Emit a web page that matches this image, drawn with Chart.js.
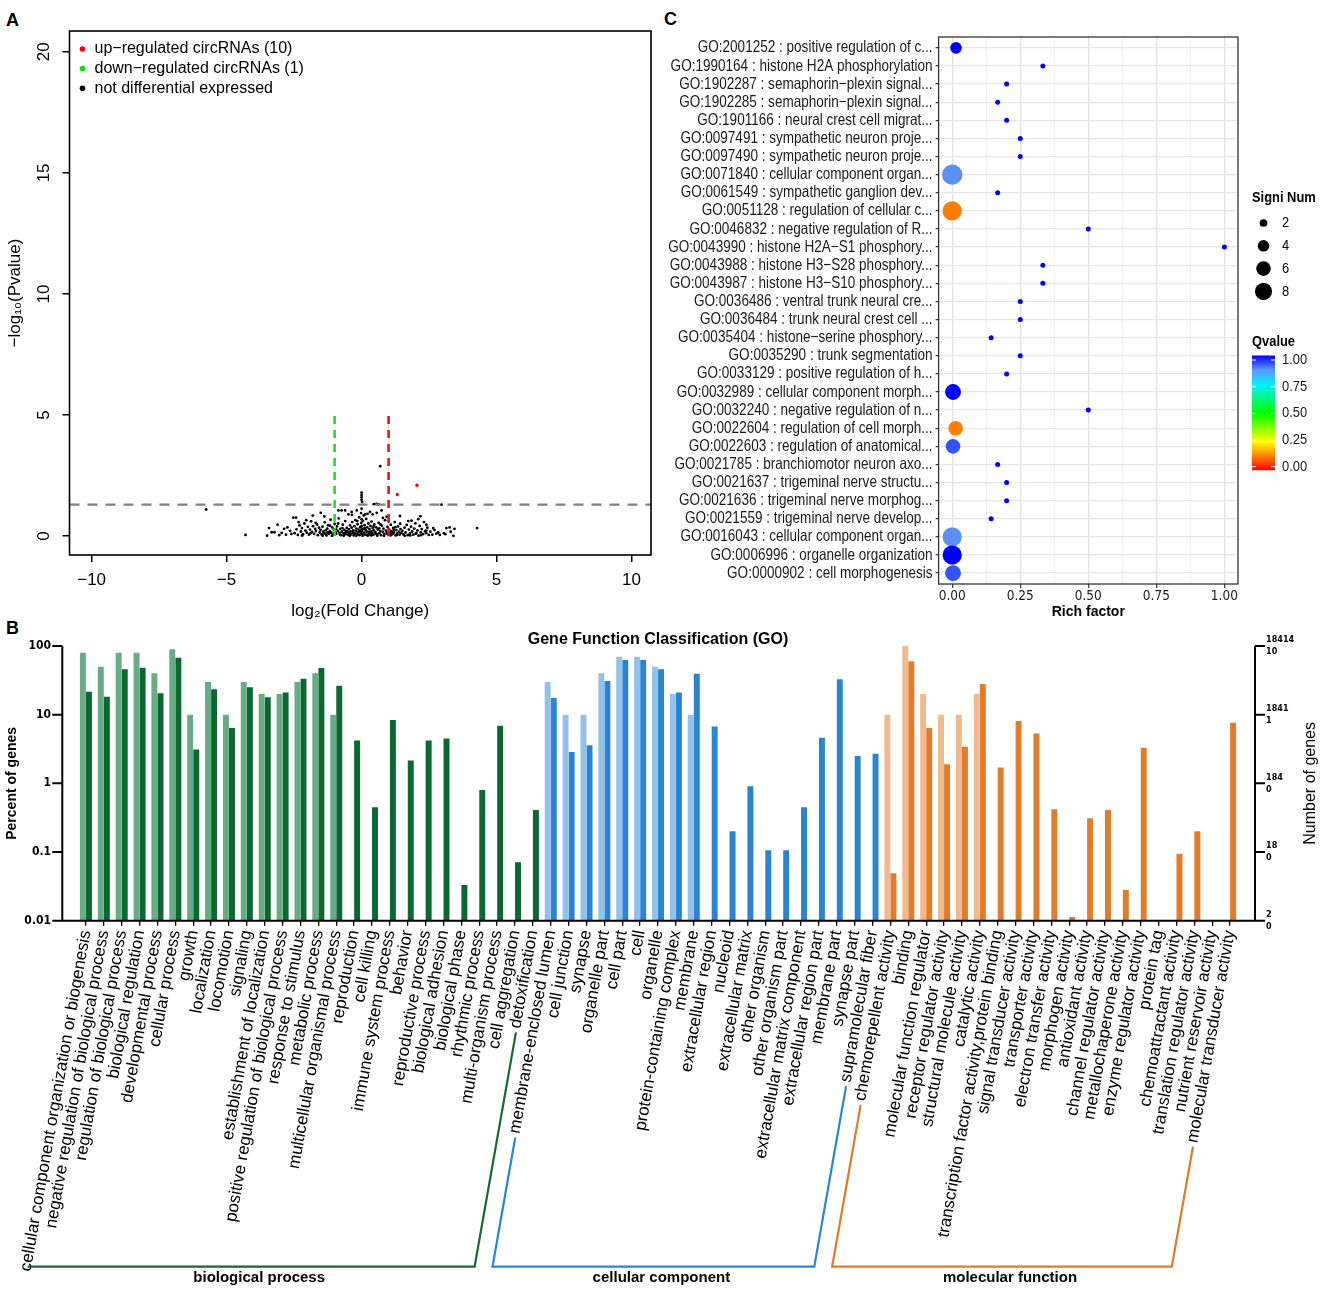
<!DOCTYPE html>
<html>
<head>
<meta charset="utf-8">
<script src="https://cdn.jsdelivr.net/npm/chart.js@4.4.1/dist/chart.umd.min.js"></script>
<style>
  body { margin: 0; background: #fff; width: 1325px; height: 1290px; position: relative; overflow: hidden;
         font-family: 'Liberation Sans', Arial, sans-serif; }
  canvas { position: absolute; }
  .tag { position: absolute; font-weight: bold; font-size: 18px; line-height: 18px; }
</style>
</head>
<body>
<div class="tag" style="left:6px;top:11px">A</div>
<div class="tag" style="left:664px;top:10px">C</div>
<div class="tag" style="left:6px;top:619px">B</div>
<canvas id="volcano" width="660" height="625" style="left:0;top:0"></canvas>
<canvas id="enrich" width="665" height="625" style="left:660px;top:0"></canvas>
<canvas id="gfc" width="1325" height="665" style="left:0;top:625px"></canvas>
<script>
Chart.defaults.font.family = "'Liberation Sans', Arial, sans-serif";
const narrow = "'DejaVu Sans Condensed', 'Liberation Sans', sans-serif";

// draw text squeezed horizontally, like the narrow face of the original figure
function narrowText(ctx, text, x, y, sx) {
  ctx.save();
  ctx.translate(x, y);
  ctx.scale(sx, 1);
  ctx.fillText(text, 0, 0);
  ctx.restore();
}

// ---------- Panel A : volcano ----------
const fcCutoff = 1;
const pCutoff = 1.3;
const volcanoXTicks = [-10, -5, 0, 5, 10];
const volcanoYTicks = [0, 5, 10, 15, 20];
const upPoints = [[2.05, 2.10], [1.32, 1.72]];
const nsPoints = [
  [-5.76,1.10],[-4.30,0.05],[4.28,0.33],[2.96,1.30],[0.69,2.89],
  [0.00,1.80],[0.00,1.70],[0.00,1.60],[0.00,1.50],[0.02,1.41],
  [0.45,1.32],[0.55,1.33],[0.63,1.31],
  [-3.43,0.33],[-3.33,0.16],[-3.23,0.16],[-3.11,0.47],[-2.96,0.13],[-2.87,0.30],[-2.75,0.36],[-2.65,0.22],
  [-2.53,0.76],[-2.43,0.76],[-1.81,0.85],[-1.51,0.96],[-1.38,0.81],[-0.86,1.06],[-0.74,1.06],[-0.61,1.06],
  [-0.49,0.90],[-0.37,1.00],[-0.18,1.06],[0.00,1.13],[0.13,0.90],[0.31,1.00],[0.41,0.90],[0.56,0.96],
  [0.74,1.06],[0.93,0.80],[1.42,0.83],[1.85,0.64],[2.18,0.82],[2.40,0.47],[2.65,0.33],[2.77,0.10],
  [3.14,0.33],[3.26,0.36],[3.44,0.30],[3.40,0.01],[3.05,0.12],[2.90,0.05],[3.30,0.18],[-3.50,0.02],
  [-3.05,0.04],[-2.80,0.06],
  [-2.48,0.12],[-2.41,0.28],[-2.36,0.05],[-2.30,0.44],[-2.25,0.19],[-2.21,0.33],[-2.17,0.08],[-2.12,0.52],
  [-2.08,0.23],[-2.03,0.14],[-1.99,0.38],[-1.95,0.06],[-1.91,0.27],[-1.87,0.61],[-1.84,0.17],[-1.80,0.41],
  [-1.76,0.09],[-1.72,0.30],[-1.69,0.21],[-1.65,0.48],[-1.62,0.04],[-1.58,0.35],[-1.55,0.15],[-1.52,0.26],
  [-2.60,0.09],[-2.20,0.02],[-1.90,0.11],[-1.70,0.55],[-2.05,0.66],[-2.33,0.58],
  [-1.48,0.07],[-1.45,0.39],[-1.42,0.18],[-1.39,0.12],[-1.36,0.57],[-1.33,0.24],[-1.30,0.03],[-1.27,0.31],
  [-1.24,0.45],[-1.21,0.10],[-1.18,0.20],[-1.15,0.68],[-1.12,0.14],[-1.09,0.36],[-1.06,0.05],[-1.03,0.27],
  [-1.00,0.50],[-0.97,0.16],[-0.94,0.09],[-0.91,0.40],[-0.88,0.22],[-0.85,0.73],[-0.82,0.13],[-0.79,0.30],
  [-0.76,0.04],[-0.73,0.19],[-0.70,0.47],[-0.67,0.11],[-0.64,0.26],[-0.61,0.62],[-0.58,0.08],[-0.55,0.34],
  [-0.52,0.17],[-1.44,0.02],[-1.26,0.15],[-1.10,0.01],[-0.95,0.29],[-0.80,0.06],[-0.66,0.02],[-0.56,0.21],
  [-1.34,0.09],[-1.17,0.43],[-1.01,0.12],[-0.87,0.52],[-0.71,0.33],[-0.60,0.14],
  [-0.49,0.05],[-0.47,0.28],[-0.45,0.12],[-0.43,0.44],[-0.41,0.19],[-0.39,0.07],[-0.37,0.35],[-0.35,0.58],
  [-0.33,0.15],[-0.31,0.24],[-0.29,0.03],[-0.27,0.41],[-0.25,0.10],[-0.23,0.66],[-0.21,0.20],[-0.19,0.31],
  [-0.17,0.08],[-0.15,0.49],[-0.13,0.16],[-0.11,0.27],[-0.09,0.78],[-0.07,0.04],[-0.05,0.37],[-0.03,0.13],
  [-0.01,0.55],[0.01,0.22],[0.03,0.09],[0.05,0.63],[0.07,0.30],[0.09,0.14],[0.11,0.45],[0.13,0.06],
  [0.15,0.25],[0.17,0.71],[0.19,0.18],[0.21,0.36],[0.23,0.02],[0.25,0.52],[0.27,0.11],[0.29,0.29],
  [0.31,0.07],[0.33,0.42],[0.35,0.19],[0.37,0.60],[0.39,0.13],[0.41,0.33],[0.43,0.05],[0.45,0.24],
  [0.47,0.48],[0.49,0.10],[-0.44,0.01],[-0.30,0.11],[-0.20,0.02],[-0.12,0.06],[-0.04,0.19],[0.04,0.01],
  [0.12,0.33],[0.20,0.05],[0.28,0.17],[0.36,0.03],[0.44,0.39],[-0.36,0.88],[-0.02,0.95],[0.08,0.85],
  [0.22,0.92],[-0.16,0.62],[0.00,0.42],[0.00,0.70],[0.02,0.30],[-0.06,0.24],
  [0.51,0.16],[0.54,0.36],[0.57,0.07],[0.60,0.27],[0.63,0.55],[0.66,0.12],[0.69,0.21],[0.72,0.04],
  [0.75,0.43],[0.78,0.18],[0.81,0.31],[0.84,0.09],[0.87,0.66],[0.90,0.23],[0.93,0.14],[0.96,0.38],
  [0.99,0.05],[1.02,0.28],[1.05,0.12],[1.08,0.47],[1.11,0.20],[1.14,0.08],[1.17,0.34],[1.20,0.15],
  [1.23,0.58],[1.26,0.03],[1.29,0.25],[1.32,0.11],[1.35,0.40],[1.38,0.18],[1.41,0.06],[1.44,0.29],
  [1.47,0.13],[0.58,0.02],[0.70,0.48],[0.83,0.01],[0.95,0.09],[1.07,0.03],[1.19,0.26],[1.31,0.05],
  [1.43,0.51],[0.65,0.32],[0.79,0.75],[1.00,0.60],[1.13,0.14],[1.25,0.37],
  [1.51,0.22],[1.55,0.07],[1.59,0.35],[1.63,0.15],[1.67,0.46],[1.71,0.04],[1.75,0.27],[1.79,0.11],
  [1.83,0.39],[1.87,0.19],[1.91,0.06],[1.95,0.31],[1.99,0.53],[2.03,0.13],[2.07,0.24],[2.11,0.02],
  [2.15,0.42],[2.19,0.16],[2.23,0.29],[2.27,0.08],[2.31,0.58],[2.35,0.20],[2.39,0.12],[2.44,0.35],
  [2.49,0.05],[1.60,0.01],[1.80,0.03],[2.00,0.09],[2.20,0.04],[2.40,0.23],[1.73,0.62],[2.10,0.70],
  [2.55,0.18],[2.62,0.06],[2.70,0.25],[2.84,0.15],[3.10,0.08]
];
const volcanoLegend = ['up\u2212regulated circRNAs (10)', 'down\u2212regulated circRNAs (1)', 'not differential expressed'];
const volcanoLegendColors = ['#ff0000', '#00dd00', '#000000'];
const xMinA = -10.82, xMaxA = 10.72;

const toXY = p => ({ x: p[0], y: p[1] });

const volcanoFrame = {
  id: 'volcanoFrame',
  afterDraw(chart) {
    const { ctx, chartArea: a } = chart;
    const ys = chart.scales.y;
    ctx.save();
    ctx.strokeStyle = '#000';
    ctx.lineWidth = 1.6;
    ctx.strokeRect(a.left, a.top, a.right - a.left, a.bottom - a.top);
    ctx.fillStyle = '#000';
    ctx.font = "17px 'Liberation Sans', Arial";
    ctx.textAlign = 'center';
    ctx.textBaseline = 'middle';
    ys.ticks.forEach(t => {
      ctx.save();
      ctx.translate(a.left - 25, ys.getPixelForValue(t.value));
      ctx.rotate(-Math.PI / 2);
      ctx.fillText(String(t.value), 0, 0);
      ctx.restore();
    });
    ctx.font = "16px 'Liberation Sans', Arial";
    ctx.textAlign = 'left';
    volcanoLegend.forEach((txt, i) => {
      const y = a.top + 18 + i * 19.6;
      ctx.fillStyle = volcanoLegendColors[i];
      ctx.beginPath();
      ctx.arc(a.left + 13, y, 2.8, 0, Math.PI * 2);
      ctx.fill();
      ctx.fillStyle = '#000';
      ctx.fillText(txt, a.left + 25, y);
    });
    ctx.restore();
  }
};

new Chart(document.getElementById('volcano'), {
  type: 'scatter',
  data: {
    datasets: [
      { type: 'line', data: [{ x: -fcCutoff, y: 0 }, { x: -fcCutoff, y: 5 }], borderColor: '#22dd22',
        borderWidth: 2.6, borderDash: [8, 6], pointRadius: 0 },
      { type: 'line', data: [{ x: fcCutoff, y: 0 }, { x: fcCutoff, y: 5 }], borderColor: '#ee1111',
        borderWidth: 2.6, borderDash: [8, 6], pointRadius: 0 },
      { type: 'line', data: [{ x: xMinA, y: pCutoff }, { x: xMaxA, y: pCutoff }], borderColor: '#808080',
        borderWidth: 2.2, borderDash: [10, 8], pointRadius: 0 },
      { data: upPoints.map(toXY), backgroundColor: '#ff0000', pointRadius: 1.7, borderWidth: 0 },
      { data: nsPoints.map(toXY), backgroundColor: '#000000', pointRadius: 1.4, borderWidth: 0 }
    ]
  },
  options: {
    responsive: false,
    animation: false,
    layout: { padding: { top: 31, right: 9, left: 0, bottom: 0 } },
    plugins: { legend: { display: false }, tooltip: { enabled: false } },
    scales: {
      x: {
        type: 'linear', min: xMinA, max: xMaxA,
        afterBuildTicks: s => { s.ticks = volcanoXTicks.map(v => ({ value: v })); },
        afterFit: s => { s.height = 70; },
        grid: { drawOnChartArea: false, color: '#000', tickLength: 7, lineWidth: 1.5 },
        border: { display: false },
        ticks: { font: { size: 17 }, color: '#000', padding: 8, callback: v => String(v).replace('-', '\u2212') },
        title: { display: true, text: 'log\u2082(Fold Change)', font: { size: 17 }, color: '#000',
                 padding: { top: 0, bottom: 3 } }
      },
      y: {
        type: 'linear', min: -0.78, max: 20.86,
        afterBuildTicks: s => { s.ticks = volcanoYTicks.map(v => ({ value: v })); },
        afterFit: s => { s.width = 69.5; },
        grid: { drawOnChartArea: false, color: '#000', tickLength: 7, lineWidth: 1.5 },
        border: { display: false },
        ticks: { color: 'rgba(0,0,0,0)', font: { size: 17 } },
        title: { display: true, text: '\u2212log\u2081\u2080(Pvalue)', font: { size: 17 }, color: '#000',
                 padding: { top: 5, bottom: 0 } }
      }
    }
  },
  plugins: [volcanoFrame]
});

// ---------- Panel C : GO enrichment bubbles ----------
const goTerms = [
  'GO:2001252 : positive regulation of c...',
  'GO:1990164 : histone H2A phosphorylation',
  'GO:1902287 : semaphorin\u2212plexin signal...',
  'GO:1902285 : semaphorin\u2212plexin signal...',
  'GO:1901166 : neural crest cell migrat...',
  'GO:0097491 : sympathetic neuron proje...',
  'GO:0097490 : sympathetic neuron proje...',
  'GO:0071840 : cellular component organ...',
  'GO:0061549 : sympathetic ganglion dev...',
  'GO:0051128 : regulation of cellular c...',
  'GO:0046832 : negative regulation of R...',
  'GO:0043990 : histone H2A\u2212S1 phosphory...',
  'GO:0043988 : histone H3\u2212S28 phosphory...',
  'GO:0043987 : histone H3\u2212S10 phosphory...',
  'GO:0036486 : ventral trunk neural cre...',
  'GO:0036484 : trunk neural crest cell ...',
  'GO:0035404 : histone\u2212serine phosphory...',
  'GO:0035290 : trunk segmentation',
  'GO:0033129 : positive regulation of h...',
  'GO:0032989 : cellular component morph...',
  'GO:0032240 : negative regulation of n...',
  'GO:0022604 : regulation of cell morph...',
  'GO:0022603 : regulation of anatomical...',
  'GO:0021785 : branchiomotor neuron axo...',
  'GO:0021637 : trigeminal nerve structu...',
  'GO:0021636 : trigeminal nerve morphog...',
  'GO:0021559 : trigeminal nerve develop...',
  'GO:0016043 : cellular component organ...',
  'GO:0006996 : organelle organization',
  'GO:0000902 : cell morphogenesis'
];
const richFactor = [0.014, 0.333, 0.2, 0.167, 0.2, 0.25, 0.25, 0.0, 0.167, 0.0,
                    0.5, 1.0, 0.333, 0.333, 0.25, 0.25, 0.143, 0.25, 0.2, 0.003,
                    0.5, 0.0125, 0.003, 0.167, 0.2, 0.2, 0.143, 0.0, 0.0, 0.003];
const signiNum = [4, 1, 1, 1, 1, 1, 1, 11, 1, 10,
                  1, 1, 1, 1, 1, 1, 1, 1, 1, 7,
                  1, 6, 6, 1, 1, 1, 1, 10, 10, 7];
const qValue = [1, 1, 1, 1, 1, 1, 1, 0.88, 1, 0.12,
                1, 1, 1, 1, 1, 1, 1, 1, 1, 1,
                1, 0.12, 0.93, 1, 1, 1, 1, 0.88, 1, 0.93];
const richTicks = [0, 0.125, 0.25, 0.375, 0.5, 0.625, 0.75, 0.875, 1];
const sizeLegend = [2, 4, 6, 8];
const qLegend = [1, 0.75, 0.5, 0.25, 0];
const qStops = [[0, [255, 0, 0]], [0.125, [255, 130, 0]], [0.25, [255, 255, 0]], [0.5, [0, 255, 0]],
                [0.75, [0, 240, 255]], [0.875, [95, 150, 245]], [1, [0, 0, 255]]];

function qColor(q) {
  for (let i = 1; i < qStops.length; i++) {
    if (q <= qStops[i][0]) {
      const [q0, c0] = qStops[i - 1], [q1, c1] = qStops[i];
      const t = (q - q0) / (q1 - q0);
      const c = c0.map((v, k) => Math.round(v + (c1[k] - v) * t));
      return `rgb(${c[0]},${c[1]},${c[2]})`;
    }
  }
  return 'rgb(0,0,255)';
}
const bubbleRadius = n => 3.3 * Math.sqrt(n) - 0.8;
const isMajor = v => Math.abs(v * 4 - Math.round(v * 4)) < 1e-6;

const enrichExtras = {
  id: 'enrichExtras',
  afterDraw(chart) {
    const { ctx, chartArea: a } = chart;
    const ys = chart.scales.y;
    ctx.save();
    ctx.strokeStyle = '#333';
    ctx.lineWidth = 1.3;
    ctx.strokeRect(a.left, a.top, a.right - a.left, a.bottom - a.top);

    // term labels, squeezed like the narrow face of the original
    ctx.font = "16.5px 'Liberation Sans', Arial";
    const sx = 262 / ctx.measureText(goTerms[1]).width;
    ctx.fillStyle = '#1a1a1a';
    ctx.textAlign = 'right';
    ctx.textBaseline = 'middle';
    ys.ticks.forEach(t => {
      narrowText(ctx, goTerms[Math.round(t.value) - 1], a.left - 6, ys.getPixelForValue(t.value), sx);
    });

    const lx = a.right + 14;
    ctx.fillStyle = '#000';
    ctx.textAlign = 'left';
    ctx.font = "bold 15px 'Liberation Sans', Arial";
    narrowText(ctx, 'Signi Num', lx, 198, 0.86);
    ctx.font = "15px 'Liberation Sans', Arial";
    sizeLegend.forEach((n, i) => {
      const y = 223 + i * 22.8;
      ctx.beginPath();
      ctx.arc(lx + 11.5, y, bubbleRadius(n), 0, Math.PI * 2);
      ctx.fill();
      narrowText(ctx, String(n), lx + 30, y, 0.86);
    });
    ctx.font = "bold 15px 'Liberation Sans', Arial";
    narrowText(ctx, 'Qvalue', lx, 342, 0.86);
    const bx = lx, bw = 23, y0 = 466.7, span = 106.7;
    const grad = ctx.createLinearGradient(0, y0 + 3.5, 0, y0 - span - 4.5);
    qStops.forEach(s => grad.addColorStop(s[0], qColor(s[0])));
    ctx.fillStyle = grad;
    ctx.fillRect(bx, y0 - span - 4.5, bw, span + 8);
    ctx.strokeStyle = '#fff';
    ctx.lineWidth = 1;
    ctx.font = "15px 'Liberation Sans', Arial";
    qLegend.forEach(q => {
      const y = y0 - q * span;
      ctx.beginPath();
      ctx.moveTo(bx, y); ctx.lineTo(bx + 4, y);
      ctx.moveTo(bx + bw - 4, y); ctx.lineTo(bx + bw, y);
      ctx.stroke();
      ctx.fillStyle = '#1a1a1a';
      narrowText(ctx, q.toFixed(2), lx + 30, y, 0.86);
    });
    ctx.restore();
  }
};

new Chart(document.getElementById('enrich'), {
  type: 'bubble',
  data: {
    datasets: [{
      data: goTerms.map((t, i) => ({ x: richFactor[i], y: i + 1, r: bubbleRadius(signiNum[i]) })),
      backgroundColor: qValue.map(qColor),
      borderWidth: 0
    }]
  },
  options: {
    responsive: false,
    animation: false,
    layout: { padding: { top: 37, right: 87, left: 0, bottom: 0 } },
    plugins: { legend: { display: false }, tooltip: { enabled: false } },
    scales: {
      x: {
        type: 'linear', min: -0.05, max: 1.05,
        afterBuildTicks: s => { s.ticks = richTicks.map(v => ({ value: v })); },
        afterFit: s => { s.height = 41; },
        grid: {
          color: c => isMajor(c.tick.value) ? '#e3e3e3' : '#eeeeee',
          lineWidth: c => isMajor(c.tick.value) ? 1.4 : 0.9,
          tickColor: c => isMajor(c.tick.value) ? '#333' : 'rgba(0,0,0,0)',
          tickWidth: 1.2, tickLength: 4
        },
        border: { display: false },
        ticks: { autoSkip: false, maxRotation: 0, font: { family: narrow, size: 13.5 }, color: '#222', padding: 0,
                 callback: v => isMajor(v) ? v.toFixed(2) : '' },
        title: { display: true, text: 'Rich factor', font: { size: 14, weight: 'bold' }, color: '#000',
                 padding: { top: 0, bottom: 4 } }
      },
      y: {
        type: 'linear', reverse: true, min: 0.4, max: 30.6,
        afterBuildTicks: s => { s.ticks = goTerms.map((t, i) => ({ value: i + 1 })); },
        afterFit: s => { s.width = 278.6; s.paddingTop = 0; s.paddingBottom = 0; },
        grid: { color: '#e6e6e6', lineWidth: 1.3, tickColor: '#333', tickWidth: 1.2, tickLength: 3 },
        border: { display: false },
        ticks: { autoSkip: false, font: { size: 15 }, color: 'rgba(0,0,0,0)', padding: 2,
                 callback: v => goTerms[Math.round(v) - 1] }
      }
    }
  },
  plugins: [enrichExtras]
});

// ---------- Panel B : Gene Function Classification ----------
const goCategories = [
  'cellular component organization or biogenesis', 'negative regulation of biological process',
  'regulation of biological process', 'biological regulation', 'developmental process', 'cellular process',
  'growth', 'localization', 'locomotion', 'signaling', 'establishment of localization',
  'positive regulation of biological process', 'response to stimulus', 'metabolic process',
  'multicellular organismal process', 'reproduction', 'cell killing', 'immune system process', 'behavior',
  'reproductive process', 'biological adhesion', 'biological phase', 'rhythmic process',
  'multi-organism process', 'cell aggregation', 'detoxification',
  'membrane-enclosed lumen', 'cell junction', 'synapse', 'organelle part', 'cell part', 'cell', 'organelle',
  'protein-containing complex', 'membrane', 'extracellular region', 'nucleoid', 'extracellular matrix',
  'other organism', 'other organism part', 'extracellular matrix component', 'extracellular region part',
  'membrane part', 'synapse part', 'supramolecular fiber',
  'chemorepellent activity', 'binding', 'molecular function regulator', 'receptor regulator activity',
  'structural molecule activity', 'catalytic activity', 'transcription factor activity,protein binding',
  'signal transducer activity', 'transporter activity', 'electron transfer activity', 'morphogen activity',
  'antioxidant activity', 'channel regulator activity', 'metallochaperone activity', 'enzyme regulator activity',
  'protein tag', 'chemoattractant activity', 'translation regulator activity', 'nutrient reservoir activity',
  'molecular transducer activity'
];
const goGroups = ['biological process', 'cellular component', 'molecular function'];
const groupSizes = [26, 19, 20];
const allGenesPct = [
  80, 50, 80, 80, 40, 90, 10, 30, 10, 30, 20, 20, 30, 40, 10,
  null, null, null, null, null, null, null, null, null, null, null,
  30, 10, 10, 40, 70, 70, 50, 20, 10,
  null, null, null, null, null, null, null, null, null, null,
  10, 100, 20, 10, 10, 20,
  null, null, null, null, null, null, null, null, null, null, null, null, null, null
];
const circGenesPct = [
  21.6, 18.3, 45.7, 48.3, 20.5, 67.6, 3.1, 23.4, 6.4, 25, 17.9, 21.1, 33.4, 47.8, 26.4,
  4.2, 0.45, 8.4, 2.16, 4.2, 4.5, 0.033, 0.8, 6.9, 0.071, 0.41,
  17.5, 2.86, 3.6, 31, 62.5, 62.5, 46, 21, 39.5,
  6.7, 0.2, 0.91, 0.106, 0.106, 0.45, 4.6, 32.7, 2.5, 2.7,
  0.049, 60, 6.4, 1.9, 3.4, 28,
  1.7, 8.1, 5.3, 0.42, 0.0113, 0.31, 0.41, 0.028, 3.3, null, 0.094, 0.2, null, 7.6
];
const percentTicks = [0.01, 0.1, 1, 10, 100];
const totalGeneTicks = [2, 18, 184, 1841, 18414];
const circGeneTicks = [0, 0, 0, 1, 10];
const lightColors = ['#68ac85', '#90c2ea', '#f1ba8e'];
const darkColors = ['#0b6830', '#2a84d3', '#e27c28'];
const bracketColors = ['#17682f', '#2a86d5', '#e07b27'];
const catFontSize = 17;

const catGroup = groupSizes.flatMap((n, g) => Array(n).fill(g));

const gfcExtras = {
  id: 'gfcExtras',
  afterDraw(chart) {
    const { ctx, chartArea: a, scales } = chart;
    const yl = scales.y, yr = scales.y2, xs = scales.x;
    const lx = a.left - 14.7, rx = a.right + 16;
    ctx.save();
    ctx.strokeStyle = '#000';
    ctx.lineWidth = 2;
    ctx.beginPath();
    ctx.moveTo(lx, a.top); ctx.lineTo(lx, a.bottom); ctx.lineTo(rx, a.bottom); ctx.lineTo(rx, a.top);
    yl.ticks.forEach(t => { const y = yl.getPixelForValue(t.value); ctx.moveTo(lx - 10, y); ctx.lineTo(lx, y); });
    yr.ticks.forEach(t => { const y = yr.getPixelForValue(t.value); ctx.moveTo(rx, y); ctx.lineTo(rx + 10, y); });
    ctx.stroke();

    ctx.fillStyle = '#000';
    ctx.textAlign = 'center';
    ctx.textBaseline = 'middle';
    ctx.font = "bold 16px 'Liberation Sans', Arial";
    ctx.fillText('Gene Function Classification (GO)', (a.left + a.right) / 2, a.top - 6);
    ctx.save();
    ctx.translate(rx + 56, (a.top + a.bottom) / 2);
    ctx.rotate(-Math.PI / 2);
    ctx.font = "16px 'Liberation Sans', Arial";
    ctx.fillText('Number of genes', 0, 0);
    ctx.restore();

    // group brackets following the slant of the first and last label of each group
    const th = 80 * Math.PI / 180, ct = Math.cos(th), st = Math.sin(th);
    const y0 = a.bottom + 5 + 3;
    const base = a.bottom + 346;
    const catFont = catFontSize + "px 'Liberation Sans', Arial";
    ctx.font = catFont;
    const labelEnd = i => {
      const w = ctx.measureText(goCategories[i]).width + 4;
      const tx = xs.getPixelForValue(i);
      return [tx - w * ct + 1, y0 + w * st + 2];
    };
    const onBase = p => [p[0] - (base - p[1]) * ct / st, base];
    let start = 0;
    groupSizes.forEach((n, g) => {
      const p1 = labelEnd(start), p4 = labelEnd(start + n - 1);
      const p2 = onBase(p1), p3 = onBase(p4);
      ctx.strokeStyle = bracketColors[g];
      ctx.lineWidth = 2.2;
      ctx.beginPath();
      if (p1[1] < base - 4) { ctx.moveTo(p1[0], p1[1]); ctx.lineTo(p2[0], p2[1]); }
      else ctx.moveTo(p2[0], p2[1]);
      ctx.lineTo(p3[0], p3[1]); ctx.lineTo(p4[0], p4[1]);
      ctx.stroke();
      ctx.fillStyle = '#000';
      ctx.font = "bold 15px 'Liberation Sans', Arial";
      ctx.fillText(goGroups[g], (p2[0] + p3[0]) / 2 + 8, base + 11);
      ctx.font = catFont;
      start += n;
    });
    ctx.restore();
  }
};

new Chart(document.getElementById('gfc'), {
  type: 'bar',
  data: {
    labels: goCategories,
    datasets: [
      { label: 'all genes', data: allGenesPct, backgroundColor: catGroup.map(g => lightColors[g]),
        categoryPercentage: 0.68, barPercentage: 0.98 },
      { label: 'circRNA host genes', data: circGenesPct, backgroundColor: catGroup.map(g => darkColors[g]),
        categoryPercentage: 0.68, barPercentage: 0.98 }
    ]
  },
  options: {
    responsive: false,
    animation: false,
    layout: { padding: { top: 21, right: 0, left: 0, bottom: 0 } },
    plugins: { legend: { display: false }, tooltip: { enabled: false } },
    scales: {
      x: {
        afterFit: s => { s.height = 369.3; s.paddingLeft = 0; s.paddingRight = 0; },
        grid: { drawOnChartArea: false, offset: false, color: '#000', lineWidth: 1.3, tickLength: 5 },
        border: { display: false },
        ticks: { autoSkip: false, minRotation: 80, maxRotation: 80, padding: 3, color: '#000',
                 font: { size: catFontSize } }
      },
      y: {
        type: 'logarithmic', min: 0.01, max: 100, position: 'left',
        afterBuildTicks: s => { s.ticks = percentTicks.map(v => ({ value: v })); },
        afterFit: s => { s.width = 77; s.paddingTop = 0; s.paddingBottom = 0; },
        grid: { display: false, drawTicks: false },
        border: { display: false },
        ticks: { padding: 26, color: '#000', font: { family: narrow, size: 12, weight: 'bold' },
                 callback: (v, i) => String(percentTicks[i]) },
        title: { display: true, text: 'Percent of genes', color: '#000', font: { size: 14, weight: 'bold' },
                 padding: { top: 4, bottom: 0 } }
      },
      y2: {
        type: 'logarithmic', min: 0.01, max: 100, position: 'right',
        afterBuildTicks: s => { s.ticks = percentTicks.map(v => ({ value: v })); },
        afterFit: s => { s.width = 86; s.paddingTop = 0; s.paddingBottom = 0; },
        grid: { display: false, drawTicks: false },
        border: { display: false },
        ticks: { padding: 27, color: '#000', font: { family: narrow, size: 9, weight: 'bold', lineHeight: 1.35 },
                 callback: (v, i) => [String(totalGeneTicks[i]), String(circGeneTicks[i])] }
      }
    }
  },
  plugins: [gfcExtras]
});
</script>
</body>
</html>
